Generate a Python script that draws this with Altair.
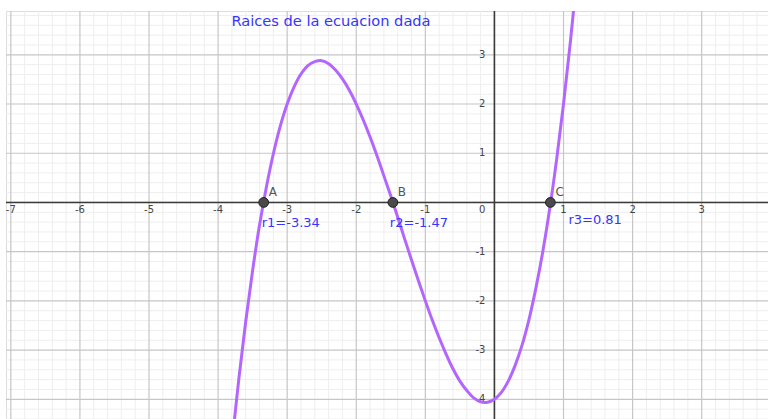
import altair as alt
import numpy as np
import pandas as pd

# Roots of the cubic and their names
root_names = ["A", "B", "C"]
root_values = [-3.34, -1.47, 0.81]
root_texts = ["r1=-3.34", "r2=-1.47", "r3=0.81"]

# Sampled curve of the cubic
curve_x = [-3.8, -3.7, -3.6, -3.5, -3.4, -3.3, -3.2, -3.1, -3.0, -2.9,
           -2.8, -2.7, -2.6, -2.5, -2.4, -2.3, -2.2, -2.1, -2.0, -1.9,
           -1.8, -1.7, -1.6, -1.5, -1.4, -1.3, -1.2, -1.1, -1.0, -0.9,
           -0.8, -0.7, -0.6, -0.5, -0.4, -0.3, -0.2, -0.1, 0.0, 0.1,
           0.2, 0.3, 0.4, 0.5, 0.6, 0.7, 0.8, 0.9, 1.0, 1.1, 1.2]
curve_y = [-4.91, -3.59, -2.42, -1.38, -0.46, 0.32, 0.99, 1.55, 2.00, 2.35,
           2.61, 2.78, 2.86, 2.88, 2.82, 2.69, 2.51, 2.28, 2.00, 1.68,
           1.33, 0.95, 0.54, 0.13, -0.30, -0.74, -1.17, -1.59, -2.00, -2.39,
           -2.75, -3.08, -3.38, -3.63, -3.82, -3.97, -4.05, -4.06, -4.00, -3.86,
           -3.63, -3.31, -2.90, -2.38, -1.74, -1.00, -0.13, 0.87, 2.00, 3.27, 4.69]

# Axis tick labels
x_ticks = [-7, -6, -5, -4, -3, -2, -1, 1, 2, 3]
y_ticks = [-4, -3, -2, -1, 1, 2, 3]

title_text = "Raices de la ecuacion dada"

X_DOM = [-7.07, 3.96]
Y_DOM = [-4.40, 3.89]
W, H = 762, 408

xs = alt.Scale(domain=X_DOM, nice=False, zero=False)
ys = alt.Scale(domain=Y_DOM, nice=False, zero=False)

major_x = list(range(-7, 4))
major_y = list(range(-4, 4))
minor_x = [v for v in np.round(np.arange(-7.0, 4.0, 0.2), 1) if abs(v - round(v)) > 1e-6]
minor_y = [v for v in np.round(np.arange(-4.4, 3.9, 0.2), 1) if abs(v - round(v)) > 1e-6]


def vrules(vals, color, width):
    return alt.Chart(pd.DataFrame({"v": vals})).mark_rule(
        color=color, strokeWidth=width
    ).encode(x=alt.X("v:Q", scale=xs, axis=None))


def hrules(vals, color, width):
    return alt.Chart(pd.DataFrame({"v": vals})).mark_rule(
        color=color, strokeWidth=width
    ).encode(y=alt.Y("v:Q", scale=ys, axis=None))


grid = [
    vrules(minor_x, "#eeeeee", 1),
    hrules(minor_y, "#eeeeee", 1),
    vrules(major_x, "#c6c6c6", 1.2),
    hrules(major_y, "#c6c6c6", 1.2),
]

axes = [
    alt.Chart(pd.DataFrame({"v": [0]})).mark_rule(color="#3a3a3a", strokeWidth=1.6)
    .encode(y=alt.Y("v:Q", scale=ys, axis=None)),
    alt.Chart(pd.DataFrame({"v": [0]})).mark_rule(color="#3a3a3a", strokeWidth=1.6)
    .encode(x=alt.X("v:Q", scale=xs, axis=None)),
]

tick_font = dict(font="DejaVu Sans", fontSize=10, color="#444444")

x_labels = alt.Chart(pd.DataFrame({"v": x_ticks, "t": [str(v) for v in x_ticks], "z": 0})).mark_text(
    align="center", baseline="middle", dy=8, **tick_font
).encode(x=alt.X("v:Q", scale=xs, axis=None), y=alt.Y("z:Q", scale=ys, axis=None), text="t:N")

y_labels = alt.Chart(pd.DataFrame({"v": y_ticks, "t": [str(v) for v in y_ticks], "z": 0})).mark_text(
    align="right", baseline="middle", dx=-9, **tick_font
).encode(x=alt.X("z:Q", scale=xs, axis=None), y=alt.Y("v:Q", scale=ys, axis=None), text="t:N")

zero_label = alt.Chart(pd.DataFrame({"v": [0], "t": ["0"]})).mark_text(
    align="right", baseline="middle", dx=-9, dy=8, **tick_font
).encode(x=alt.X("v:Q", scale=xs, axis=None), y=alt.Y("v:Q", scale=ys, axis=None), text="t:N")

curve = alt.Chart(pd.DataFrame({"x": curve_x, "y": curve_y})).mark_line(
    color="#b366ff", strokeWidth=3, clip=True, interpolate="catmull-rom"
).encode(x=alt.X("x:Q", scale=xs, axis=None), y=alt.Y("y:Q", scale=ys, axis=None))

roots_df = pd.DataFrame({"x": root_values, "y": [0, 0, 0], "name": root_names, "txt": root_texts})

points = alt.Chart(roots_df).mark_point(
    filled=True, size=95, color="#4a4a4a", stroke="#1f1f1f", strokeWidth=1, opacity=1
).encode(x=alt.X("x:Q", scale=xs, axis=None), y=alt.Y("y:Q", scale=ys, axis=None))

point_names = alt.Chart(roots_df).mark_text(
    align="left", baseline="middle", dx=5, dy=-10, font="DejaVu Sans", fontSize=12, color="#555555"
).encode(x=alt.X("x:Q", scale=xs, axis=None), y=alt.Y("y:Q", scale=ys, axis=None), text="name:N")

# Root value captions, each with its own offset from the root
caption_offsets = [(-2, 21), (-3, 21), (18, 18)]
captions = []
for i, (dx, dy) in enumerate(caption_offsets):
    captions.append(
        alt.Chart(roots_df.iloc[[i]]).mark_text(
            align="left", baseline="middle", dx=dx, dy=dy,
            font="DejaVu Sans", fontSize=13, color="#3535ff"
        ).encode(x=alt.X("x:Q", scale=xs, axis=None), y=alt.Y("y:Q", scale=ys, axis=None), text="txt:N")
    )

title = alt.Chart(pd.DataFrame({"t": [title_text]})).mark_text(
    align="center", baseline="middle", font="DejaVu Sans", fontSize=14.6, color="#3535ff"
).encode(x=alt.value(325), y=alt.value(11), text="t:N")

chart = alt.layer(
    *grid, *axes, x_labels, y_labels, zero_label, curve, points, point_names, *captions, title
).properties(
    width=W, height=H,
    autosize=alt.AutoSizeParams(type="none"),
    padding={"left": 6, "top": 11, "right": 0, "bottom": 0},
).configure_view(stroke=None).configure(background="white")

chart.save("out.html", embed_options={"renderer": "svg", "actions": False})
